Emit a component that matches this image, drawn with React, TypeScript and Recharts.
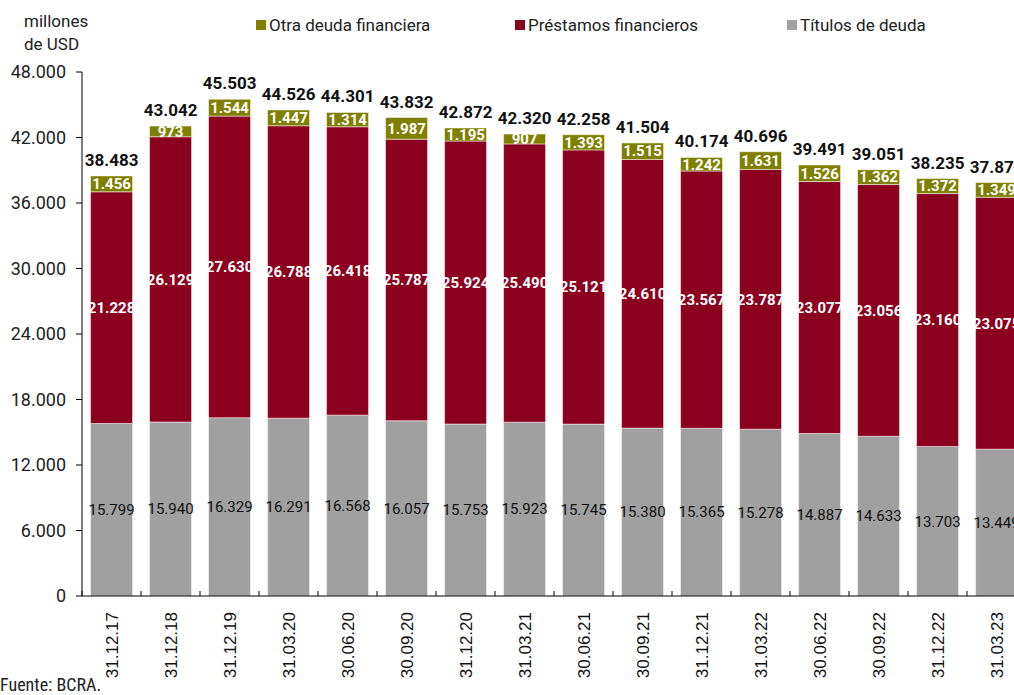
import React from 'react';
import { BarChart, Bar, XAxis, YAxis, LabelList } from 'recharts';

const fechas = ['31.12.17', '31.12.18', '31.12.19', '31.03.20', '30.06.20', '30.09.20', '31.12.20', '31.03.21', '30.06.21', '30.09.21', '31.12.21', '31.03.22', '30.06.22', '30.09.22', '31.12.22', '31.03.23'];
const titulos = [15799, 15940, 16329, 16291, 16568, 16057, 15753, 15923, 15745, 15380, 15365, 15278, 14887, 14633, 13703, 13449];
const prestamos = [21228, 26129, 27630, 26788, 26418, 25787, 25924, 25490, 25121, 24610, 23567, 23787, 23077, 23056, 23160, 23075];
const otra = [1456, 973, 1544, 1447, 1314, 1987, 1195, 907, 1393, 1515, 1242, 1631, 1526, 1362, 1372, 1349];
const totales = [38483, 43042, 45503, 44526, 44301, 43832, 42872, 42320, 42258, 41504, 40174, 40696, 39491, 39051, 38235, 37873];
const yTicks = [0, 6000, 12000, 18000, 24000, 30000, 36000, 42000, 48000];

const data = fechas.map((fecha, i) => ({
  fecha,
  titulos: titulos[i],
  prestamos: prestamos[i],
  otra: otra[i],
  total: totales[i],
}));

const COLORS = { otra: '#808000', prestamos: '#8B001F', titulos: '#A0A0A0' };

const CHART_W = 1026;
const Y_W = 82;
const BAND = (CHART_W - Y_W) / fechas.length;

const fmt = (v: number) => String(v).replace(/\B(?=(\d{3})+(?!\d))/g, '.');

const legendItems = [
  { label: 'Otra deuda financiera', color: COLORS.otra, left: 256 },
  { label: 'Préstamos financieros', color: COLORS.prestamos, left: 515 },
  { label: 'Títulos de deuda', color: COLORS.titulos, left: 787 },
];

// rotated date label + small tick mark between categories
const XTick = (props: any) => {
  const { x, y, payload } = props;
  const axisY = y - 8;
  return (
    <g>
      <line x1={x - BAND / 2} x2={x - BAND / 2} y1={axisY} y2={axisY - 5} stroke="#000" />
      <text x={x} y={y} transform={`rotate(-90, ${x}, ${y})`} dx={-8} dy={6} textAnchor="end" fontFamily="Liberation Sans, Arial" fontSize={17} fill="#111">
        {payload.value}
      </text>
    </g>
  );
};

export default function App() {
  return (
    <div style={{ position: 'fixed', left: 0, top: 0, width: 1014, height: 695, overflow: 'hidden', background: '#fff' }}>
      <div style={{ position: 'absolute', left: 24, top: 10, fontFamily: 'Roboto', fontSize: 17, color: '#222', lineHeight: '23px' }}>
        millones<br />de USD
      </div>
      {legendItems.map(it => (
        <div key={it.label} style={{ position: 'absolute', left: it.left, top: 15, display: 'flex', alignItems: 'center', whiteSpace: 'nowrap', fontFamily: 'Roboto', fontSize: 17, color: '#222' }}>
          <span style={{ width: 10, height: 10, background: it.color, display: 'inline-block', marginRight: 3 }} />
          {it.label}
        </div>
      ))}
      <div style={{ position: 'absolute', left: 0, top: 675, lineHeight: '20px', fontFamily: 'Liberation Sans Narrow, Roboto Condensed, Roboto', fontSize: 18, color: '#222' }}>
        Fuente: BCRA.
      </div>
      <div style={{ position: 'absolute', left: 0, top: 0 }}>
        <BarChart width={CHART_W} height={695} data={data} margin={{ top: 72, right: 0, left: 0, bottom: 14 }} barCategoryGap="14.5%">
          <XAxis dataKey="fecha" interval={0} height={85} tick={<XTick />} tickLine={false} axisLine={{ stroke: '#000' }} />
          <YAxis
            width={Y_W}
            domain={[0, 48000]}
            ticks={yTicks}
            tickFormatter={fmt}
            axisLine={{ stroke: '#000' }}
            tickLine={{ stroke: '#000' }}
            tickSize={6}
            tickMargin={10}
            tick={{ fontFamily: 'Roboto', fontSize: 18, fill: '#222' }}
          />
          <Bar dataKey="titulos" stackId="a" fill={COLORS.titulos} stroke="#fff" strokeWidth={0.5} isAnimationActive={false}>
            <LabelList dataKey="titulos" position="center" formatter={(v: any) => fmt(v)} style={{ fontFamily: 'Roboto', fontSize: 15, fill: '#111' }} />
          </Bar>
          <Bar dataKey="prestamos" stackId="a" fill={COLORS.prestamos} stroke="#fff" strokeWidth={0.5} isAnimationActive={false}>
            <LabelList dataKey="prestamos" position="center" formatter={(v: any) => fmt(v)} style={{ fontFamily: 'Roboto', fontSize: 15, fontWeight: 700, fill: '#fff' }} />
          </Bar>
          <Bar dataKey="otra" stackId="a" fill={COLORS.otra} stroke="#fff" strokeWidth={0.5} isAnimationActive={false}>
            <LabelList dataKey="otra" position="center" formatter={(v: any) => fmt(v)} style={{ fontFamily: 'Roboto', fontSize: 15, fontWeight: 700, fill: '#fff' }} />
            <LabelList dataKey="total" position="top" offset={10} formatter={(v: any) => fmt(v)} style={{ fontFamily: 'Roboto', fontSize: 17, fontWeight: 700, fill: '#111' }} />
          </Bar>
        </BarChart>
      </div>
    </div>
  );
}
